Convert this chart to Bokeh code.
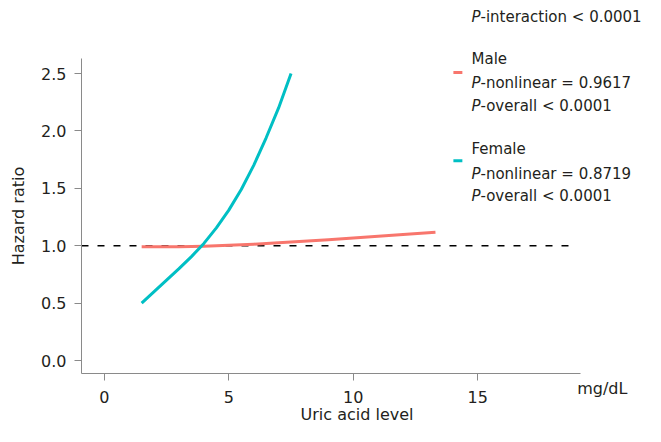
from bokeh.plotting import figure
from bokeh.models import Label, Range1d, FixedTicker, NumeralTickFormatter
from bokeh.embed import file_html
from bokeh.resources import INLINE

# ---- data ----
male_x = [1.5, 3.0, 4.0, 5.0, 6.0, 7.0, 8.0, 9.0, 10.0, 11.0, 12.0, 13.3]
male_y = [0.99, 0.99, 0.995, 1.003, 1.013, 1.025, 1.038, 1.052, 1.067, 1.082, 1.098, 1.118]
female_x = [1.5, 2.0, 2.5, 3.0, 3.5, 4.0, 4.5, 5.0, 5.5, 6.0, 6.5, 7.0, 7.5]
female_y = [0.50, 0.60, 0.70, 0.80, 0.905, 1.02, 1.155, 1.31, 1.49, 1.70, 1.94, 2.20, 2.50]
ref_x = [-0.916, 18.72]
ref_y = [1.0, 1.0]
x_ticks = [0, 5, 10, 15]
y_ticks = [0.0, 0.5, 1.0, 1.5, 2.0, 2.5]
x_title = "Uric acid level"
y_title = "Hazard ratio"
x_unit = "mg/dL"
p_interaction = "-interaction < 0.0001"
groups = ["Male", "Female"]
p_nonlinear = ["-nonlinear = 0.9617", "-nonlinear = 0.8719"]
p_overall = ["-overall < 0.0001", "-overall < 0.0001"]

RED = "#F8766D"
TEAL = "#00BFC4"
TXT = "#231f20"
AX = "#8a8a8a"
FONT = "DejaVu Sans"
FS = "16px"
LFS = "15px"

# axis geometry (data units)
X_AXIS_AT = -0.1132
Y_AXIS_AT = -0.916
X_END = 19.12
Y_END = 2.631

p = figure(width=645, height=426, output_backend="svg", toolbar_location=None,
           x_range=Range1d(-4.169, 21.735), y_range=Range1d(-0.5749, 3.136),
           min_border=0, min_border_left=0, min_border_right=0,
           min_border_top=0, min_border_bottom=0)
p.outline_line_color = None
p.grid.visible = False
p.background_fill_color = "white"
p.border_fill_color = "white"

xa = p.xaxis[0]
ya = p.yaxis[0]
xa.fixed_location = X_AXIS_AT
ya.fixed_location = Y_AXIS_AT
xa.bounds = (Y_AXIS_AT, X_END)
ya.bounds = (X_AXIS_AT, Y_END)

for ax in (xa, ya):
    ax.axis_line_color = AX
    ax.major_tick_line_color = AX
    ax.minor_tick_line_color = None
    ax.major_tick_in = 0
    ax.major_tick_out = 7
    ax.major_label_text_font = FONT
    ax.major_label_text_font_size = FS
    ax.major_label_text_color = TXT
    ax.axis_label_text_font = FONT
    ax.axis_label_text_font_size = FS
    ax.axis_label_text_font_style = "normal"
    ax.axis_label_text_color = TXT

xa.ticker = FixedTicker(ticks=x_ticks)
ya.ticker = FixedTicker(ticks=y_ticks)
ya.formatter = NumeralTickFormatter(format="0.0")
ya.axis_label = y_title
xa.major_label_standoff = 11
ya.major_label_standoff = 8
ya.axis_label_standoff = 10

p.line(ref_x, ref_y, line_color="black", line_width=1.6, line_dash="7 9")
p.line(male_x, male_y, line_color=RED, line_width=3, line_join="round")
p.line(female_x, female_y, line_color=TEAL, line_width=3, line_join="round")

# x axis title and unit
p.add_layout(Label(x=10.15, y=-0.470, text=x_title, text_font=FONT, text_font_size=FS,
                   text_color=TXT, text_align="center", text_baseline="alphabetic"))
p.add_layout(Label(x=18.99, y=-0.244, text=x_unit, text_font=FONT, text_font_size=FS,
                   text_color=TXT, text_align="left", text_baseline="alphabetic"))

# legend / annotation block
lx = 14.747
def ptext(y, rest):
    p.add_layout(Label(x=lx, y=y, text="P", text_font=FONT, text_font_size=LFS,
                       text_font_style="italic", text_color=TXT, text_baseline="alphabetic"))
    p.add_layout(Label(x=lx, y=y, x_offset=9.0, text=rest, text_font=FONT, text_font_size=LFS,
                       text_color=TXT, text_baseline="alphabetic"))

ptext(2.992, p_interaction)
title_y = [2.624, 1.840]
nonlin_y = [2.417, 1.627]
overall_y = [2.217, 1.435]
sw_y = [2.509, 1.740]
colors = [RED, TEAL]
for i, g in enumerate(groups):
    p.add_layout(Label(x=lx, y=title_y[i], text=g, text_font=FONT, text_font_size=LFS,
                       text_color=TXT, text_baseline="alphabetic"))
    ptext(nonlin_y[i], p_nonlinear[i])
    ptext(overall_y[i], p_overall[i])
    p.segment(x0=[14.02], y0=[sw_y[i]], x1=[14.38], y1=[sw_y[i]],
              line_color=colors[i], line_width=3)

open("out.html", "w").write(file_html(p, INLINE))
